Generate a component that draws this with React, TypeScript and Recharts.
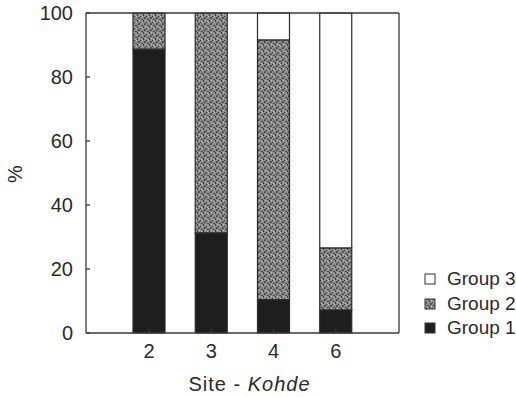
import React from 'react';
import { BarChart, Bar, XAxis, YAxis, Legend } from 'recharts';

const sites = ['2', '3', '4', '6'];
const group1 = [88.7, 31.3, 10.4, 7.2];
const group2 = [11.3, 68.7, 81.2, 19.4];
const group3 = [0, 0, 8.4, 73.4];
const yTicks = [0, 20, 40, 60, 80, 100];
const seriesNames = ['Group 1', 'Group 2', 'Group 3'];

const data = sites.map((s, i) => ({ site: s, g1: group1[i], g2: group2[i], g3: group3[i] }));

const FONT = 'Arial, "Liberation Sans", sans-serif';
const INK = '#2a2a2a';
const AXIS = '#3a3a3a';

const renderLegend = (props: any) => {
  const items = [...(props.payload || [])].reverse();
  return (
    <div style={{ fontFamily: FONT, fontSize: 19, color: INK }}>
      {items.map((it: any) => (
        <div key={it.value} style={{ display: 'flex', alignItems: 'center', height: 24.5 }}>
          <svg width={12} height={12} style={{ marginRight: 11 }}>
            <rect x={1} y={1} width={10} height={10} fill={it.color} stroke="#333" strokeWidth={1} />
          </svg>
          <span>{it.value}</span>
        </div>
      ))}
    </div>
  );
};

const XLabel = (p: any) => {
  const vb = p.viewBox;
  return (
    <text x={vb.x + vb.width / 2 + 7} y={391} textAnchor="middle" fontSize={20} fill={INK} fontFamily={FONT} letterSpacing={1}>
      <tspan>{'Site -\u00a0'}</tspan>
      <tspan fontStyle="italic">Kohde</tspan>
    </text>
  );
};

const YLabel = (p: any) => {
  const vb = p.viewBox;
  const cx = vb.x + 15;
  const cy = vb.y + vb.height / 2 + 1;
  return (
    <text x={cx} y={cy} transform={`rotate(-90, ${cx}, ${cy})`} textAnchor="middle" dominantBaseline="central" fontSize={20} fill={INK} fontFamily={FONT}>
      %
    </text>
  );
};

export default function App() {
  return (
    <div style={{ position: 'absolute', left: 0, top: 0, background: '#fff' }}>
      <BarChart
        width={516}
        height={397}
        data={data}
        margin={{ top: 0, right: 0, bottom: 0, left: 0 }}
        style={{ fontFamily: FONT }}
      >
        <defs>
          <pattern id="speckle" width="6" height="6" patternUnits="userSpaceOnUse">
            <rect width="6" height="6" fill="#8a8a8a" />
            <rect x="0" y="0" width="1" height="1" fill="#3a3a3a" />
            <rect x="3" y="1" width="2" height="1" fill="#4a4a4a" />
            <rect x="1" y="2" width="1" height="1" fill="#c8c8c8" />
            <rect x="5" y="2" width="1" height="2" fill="#3c3c3c" />
            <rect x="2" y="4" width="1" height="1" fill="#333" />
            <rect x="4" y="4" width="1" height="1" fill="#c4c4c4" />
            <rect x="0" y="5" width="2" height="1" fill="#555" />
            <rect x="3" y="3" width="1" height="1" fill="#b0b0b0" />
            <rect x="1" y="0" width="1" height="1" fill="#6a6a6a" />
          </pattern>
        </defs>
        <XAxis
          dataKey="site"
          height={64}
          padding={{ left: 32, right: 32 }}
          tickSize={-4}
          tickMargin={15}
          stroke={AXIS}
          strokeWidth={1.3}
          tick={{ fontSize: 20, fill: INK, fontFamily: FONT }}
          label={<XLabel />}
        />
        <XAxis
          xAxisId="top"
          dataKey="site"
          orientation="top"
          height={13}
          padding={{ left: 32, right: 32 }}
          tickSize={-4}
          tick={false}
          stroke={AXIS}
          strokeWidth={1.3}
        />
        <YAxis
          width={86}
          domain={[0, 100]}
          ticks={yTicks}
          tickSize={-4}
          tickMargin={17}
          stroke={AXIS}
          strokeWidth={1.3}
          tick={{ fontSize: 20, fill: INK, fontFamily: FONT }}
          label={<YLabel />}
        />
        <YAxis
          yAxisId="right"
          orientation="right"
          width={117}
          domain={[0, 100]}
          ticks={yTicks}
          tickSize={-4}
          tick={false}
          stroke={AXIS}
          strokeWidth={1.3}
        />
        <Legend
          layout="vertical"
          align="center"
          verticalAlign="middle"
          content={renderLegend}
          wrapperStyle={{ left: 424, top: 267, right: 'auto', bottom: 'auto', width: 92 }}
        />
        <Bar dataKey="g1" name={seriesNames[0]} stackId="a" barSize={32} fill="#1e1e1e" stroke="#2a2a2a" strokeWidth={1.2} isAnimationActive={false} />
        <Bar dataKey="g2" name={seriesNames[1]} stackId="a" barSize={32} fill="url(#speckle)" stroke="#2a2a2a" strokeWidth={1.2} isAnimationActive={false} />
        <Bar dataKey="g3" name={seriesNames[2]} stackId="a" barSize={32} fill="#ffffff" stroke="#2a2a2a" strokeWidth={1.2} isAnimationActive={false} />
      </BarChart>
    </div>
  );
}
